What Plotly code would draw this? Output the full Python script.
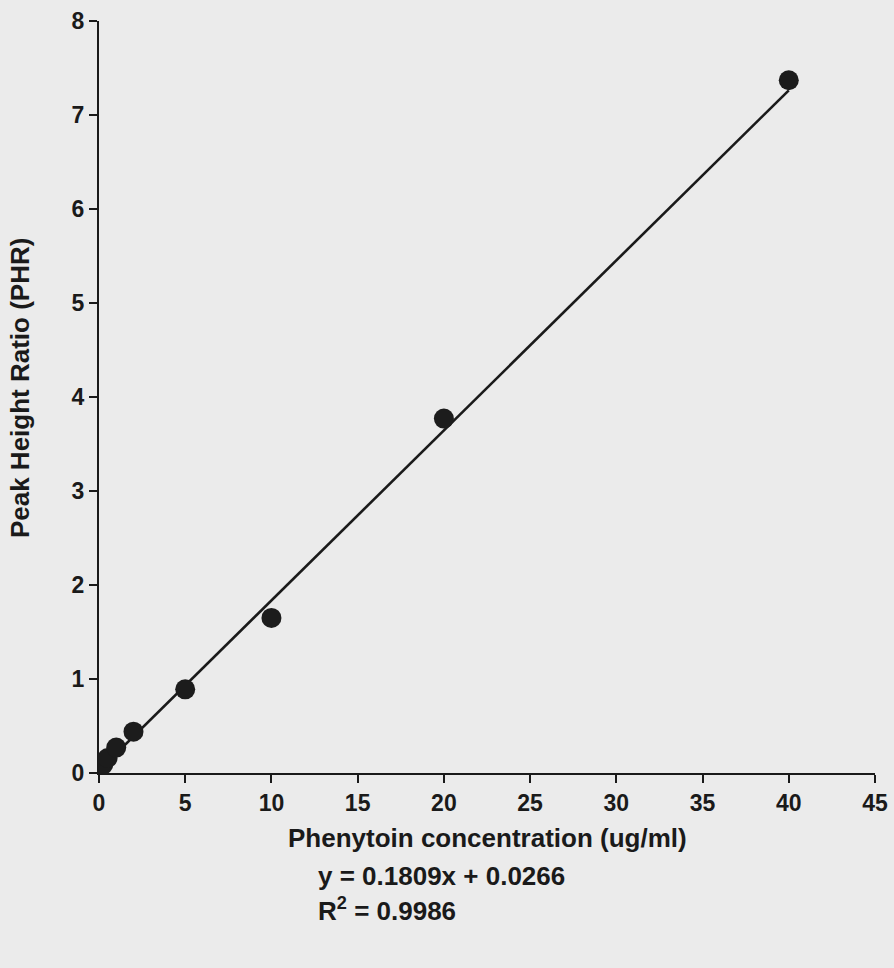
import plotly.graph_objects as go

# Calibration standards: phenytoin concentration vs peak height ratio
concentration = [0.25, 0.5, 1, 2, 5, 10, 20, 40]
phr = [0.09, 0.16, 0.27, 0.44, 0.89, 1.65, 3.77, 7.37]

slope = 0.1809
intercept = 0.0266
r_squared = 0.9986

x_ticks = [0, 5, 10, 15, 20, 25, 30, 35, 40, 45]
y_ticks = [0, 1, 2, 3, 4, 5, 6, 7, 8]

fit_x = [0, max(concentration)]
fit_y = [slope * v + intercept for v in fit_x]

font_family = "Liberation Sans, Arial, sans-serif"
ink = "#1a1a1a"

fig = go.Figure()
fig.add_trace(go.Scatter(
    x=fit_x, y=fit_y, mode="lines",
    line=dict(color=ink, width=2.6), hoverinfo="skip", showlegend=False,
))
fig.add_trace(go.Scatter(
    x=concentration, y=phr, mode="markers",
    marker=dict(color="#1c1c1c", size=20, line=dict(width=0)),
    showlegend=False,
))

axis_common = dict(
    showgrid=False, zeroline=False, showline=True, linecolor=ink, linewidth=2.2,
    ticks="outside", ticklen=8, tickwidth=1.8, tickcolor=ink, automargin=False,
    tickfont=dict(family=font_family, size=23, color=ink, weight="bold"),
)

fig.update_layout(
    width=894, height=968,
    margin=dict(l=99, r=19, t=21, b=195),
    paper_bgcolor="#ebebeb", plot_bgcolor="#ebebeb",
    xaxis=dict(range=[0, 45], tickvals=x_ticks, **axis_common),
    yaxis=dict(range=[0, 8], tickvals=y_ticks, **axis_common),
    font=dict(family=font_family, color=ink),
)

fig.add_annotation(
    text="Peak Height Ratio (PHR)", textangle=-90,
    xref="paper", yref="paper", x=-0.102, y=0.513, xanchor="center", yanchor="middle",
    showarrow=False, font=dict(size=26, color=ink, weight="bold"),
)
fig.add_annotation(
    text="Phenytoin concentration (ug/ml)",
    xref="paper", yref="paper", x=0.501, y=-0.0864, xanchor="center", yanchor="middle",
    showarrow=False, font=dict(size=26, color=ink, weight="bold"),
)
fig.add_annotation(
    text=f"y = {slope}x + {intercept}",
    xref="paper", yref="paper", x=0.2796, y=-0.137, xanchor="left", yanchor="middle",
    showarrow=False, font=dict(size=26, color=ink, weight="bold"),
)
fig.add_annotation(
    text=f"R<sup>2</sup> = {r_squared}",
    xref="paper", yref="paper", x=0.2796, y=-0.182, xanchor="left", yanchor="middle",
    showarrow=False, font=dict(size=26, color=ink, weight="bold"),
)

fig.write_html("out.html")
